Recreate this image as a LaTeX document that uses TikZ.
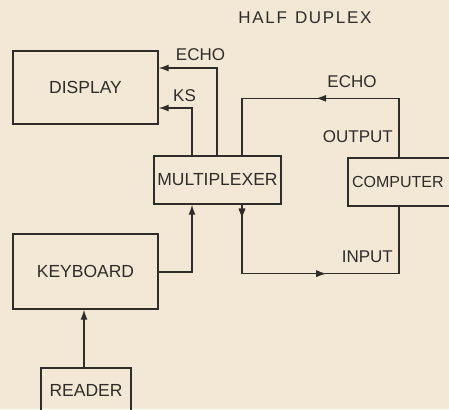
\documentclass[tikz,border=0pt]{standalone}
\usepackage{fontspec}
\setmainfont{Liberation Sans}
\usetikzlibrary{arrows.meta,decorations.markings}
\definecolor{paper}{HTML}{F3E7D6}
\definecolor{ink}{HTML}{2F2C29}
\tikzset{
  blk/.style={draw=ink,line width=1.3pt,inner sep=0pt,font=\fontsize{17.5}{19}\selectfont,text=ink},
  lbl/.style={inner sep=0pt,font=\fontsize{17}{19}\selectfont,text=ink},
  wire/.style={draw=ink,line width=1.3pt},
  tip/.style={-{Latex[length=10pt,width=7pt]}},
  midtip/.style={postaction={decorate},decoration={markings,mark=at position #1 with {\arrow[ink]{Latex[length=10pt,width=7pt]}}}}
}
\begin{document}
\begin{tikzpicture}[x=1pt,y=-1pt]
\fill[paper] (0,0) rectangle (449,409);
\useasboundingbox (0,0) rectangle (449,409);
\node[blk,minimum width=145pt,minimum height=73pt] (disp) at (85.5,87.5) {DISPLAY};
\node[blk,minimum width=127pt,minimum height=48pt] (mux) at (217.5,180) {MULTIPLEXER};
\node[blk,minimum width=104pt,minimum height=48pt,text width=98pt,align=left,font=\fontsize{16}{18}\selectfont] (comp) at (400,182) {\hspace{1pt}COMPUTER};
\node[blk,minimum width=145pt,minimum height=75pt] (kbd) at (85.5,271.5) {KEYBOARD};
\node[blk,minimum width=90pt,minimum height=46pt] (rdr) at (86,391) {\raisebox{1pt}{READER}};
\node[lbl,font=\fontsize{17}{19}\selectfont\addfontfeature{LetterSpace=10}] (title) at (305,18) {HALF\hspace{8pt}DUPLEX};
\node[lbl] (echoa) at (200.5,55) {ECHO};
\node[lbl] (ks) at (184.5,96) {KS};
\node[lbl] (echob) at (352,82) {ECHO};
\node[lbl,anchor=east] (outp) at (393,137) {OUTPUT};
\node[lbl,anchor=east] (inp) at (393,257) {INPUT};
\draw[wire,tip] ([xshift=-0.5pt]mux.north) |- ([yshift=19.5pt]disp.east);
\draw[wire,tip] ([xshift=-25.5pt]mux.north) |- ([yshift=-20.5pt]disp.east);
\draw[wire,midtip=142pt] ([xshift=-1pt]comp.north) |- ([xshift=24.5pt,yshift=57pt]mux.north) -- ([xshift=24.5pt]mux.north);
\draw[wire,midtip=14pt,midtip=153pt] ([xshift=24.5pt]mux.south) |- ([xshift=-1pt,yshift=-67pt]comp.south) -- ([xshift=-1pt]comp.south);
\draw[wire,tip] ([yshift=-0.5pt]kbd.east) -| ([xshift=-25.5pt]mux.south);
\draw[wire,tip] ([xshift=-2pt]rdr.north) -- ([xshift=-1.5pt]kbd.south);
\end{tikzpicture}
\end{document}
